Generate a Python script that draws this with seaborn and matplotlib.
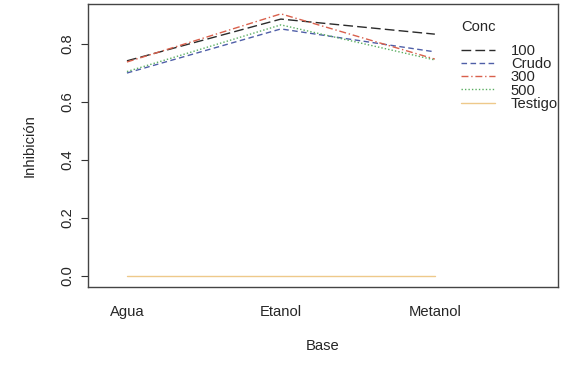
import pandas as pd
import matplotlib.pyplot as plt
import seaborn as sns

# datos
bases = ['Agua', 'Etanol', 'Metanol']
conc = ['100', 'Crudo', '300', '500', 'Testigo']
inh_100 = [0.742, 0.886, 0.834]
inh_crudo = [0.700, 0.852, 0.773]
inh_300 = [0.738, 0.904, 0.748]
inh_500 = [0.705, 0.866, 0.745]
inh_testigo = [0.0, 0.0, 0.0]

valores = [inh_100, inh_crudo, inh_300, inh_500, inh_testigo]
rows = []
for c, vals in zip(conc, valores):
    for i, (b, v) in enumerate(zip(bases, vals)):
        rows.append({'Base': b, 'pos': i + 1, 'Conc': c, 'Inhibicion': v})
df = pd.DataFrame(rows)

sns.set_style('white')
plt.rcParams['font.family'] = ['Liberation Sans', 'DejaVu Sans']
fs = 10.6

colores = {'100': '#2b2b2b', 'Crudo': '#4f5fa8', '300': '#d9604c',
           '500': '#5aae61', 'Testigo': '#eec98a'}
estilos = {'100': (7, 3), 'Crudo': (4, 2.5), '300': (5, 2, 1, 2),
           '500': (1, 1.5), 'Testigo': ''}

fig = plt.figure(figsize=(5.77, 3.70), dpi=100)
ax = fig.add_axes([88 / 577, 1 - 287 / 370, (558 - 88) / 577, (287 - 4) / 370])

sns.lineplot(data=df, x='pos', y='Inhibicion', hue='Conc', style='Conc',
             hue_order=conc, style_order=conc, palette=colores, dashes=estilos,
             linewidth=1.0, ax=ax, legend=False)

ax.set_xlim(0.747, 3.80)
ax.set_ylim(-0.038, 0.938)
ax.set_xticks([1, 2, 3])
ax.set_xticklabels(bases, fontsize=fs)
ax.tick_params(axis='x', length=0, pad=13)
ax.set_yticks([0, 0.2, 0.4, 0.6, 0.8])
ax.set_yticklabels(['0.0', '0.2', '0.4', '0.6', '0.8'], rotation=90, va='center', fontsize=fs)
ax.tick_params(axis='y', length=5, width=0.8, color='#333333', left=True, pad=5)
ax.set_xlabel('Base', fontsize=fs, labelpad=14)
ax.set_ylabel('Inhibición', fontsize=fs, labelpad=17)

for s in ax.spines.values():
    s.set_color('#444444')
    s.set_linewidth(1.0)

# leyenda sin marco como en R
handles = [plt.Line2D([], [], color=colores[c], linewidth=1.0,
                      dashes=estilos[c] if estilos[c] else (None, None)) for c in conc]
leg = ax.legend(handles, conc, title='Conc', loc='upper left',
                bbox_to_anchor=(0.765, 0.99), frameon=False, fontsize=fs,
                title_fontsize=fs, handlelength=2.3, labelspacing=-0.05,
                handletextpad=1.1, alignment='left')
leg._legend_box.sep = 7

fig.savefig('out.png', dpi=100)
